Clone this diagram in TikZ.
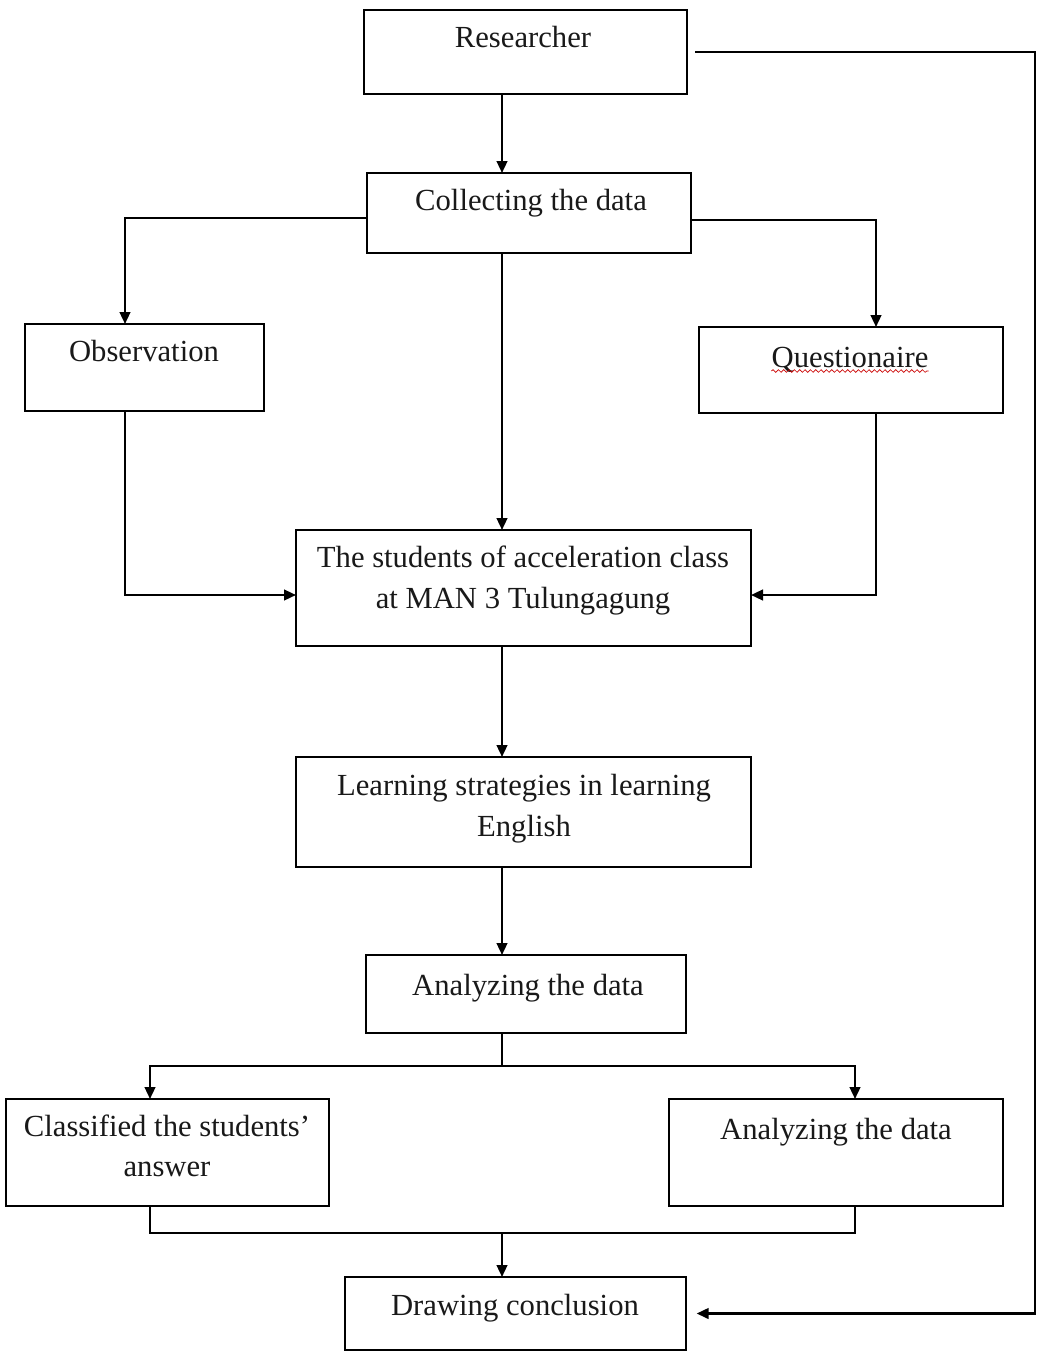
\documentclass[tikz,border=0pt]{standalone}
\usepackage{fontspec}
\setmainfont{Liberation Serif}
\usetikzlibrary{arrows.meta,decorations.pathmorphing}
\begin{document}
\begin{tikzpicture}[
  x=0.75pt, y=-0.75pt,
  box/.style={draw, rectangle, line width=1.8pt, inner sep=0pt, outer sep=0pt},
  sz/.style 2 args={minimum width=#1*0.75pt, minimum height=#2*0.75pt},
  lbl/.style={anchor=base, inner sep=0pt, text=black!90,
              font=\fontsize{23}{28}\selectfont},
  link/.style={line width=1.7pt},
  arr/.style={link, -{Triangle[length=9pt,width=8pt]}},
  spell/.style={red!80!black, line width=0.5pt,
                decorate, decoration={snake, amplitude=1pt, segment length=4pt}}
]
\fill[white] (0,0) rectangle (1038,1353);
\useasboundingbox (0,0) rectangle (1038,1353);

% boxes
\node[box, sz={323}{84}]  (res)  at (525.5,52)    {};
\node[box, sz={324}{80}]  (col)  at (529,213)     {};
\node[box, sz={239}{87}]  (obs)  at (144.5,367.5) {};
\node[box, sz={304}{86}]  (qst)  at (851,370)     {};
\node[box, sz={455}{116}] (stu)  at (523.5,588)   {};
\node[box, sz={455}{110}] (lrn)  at (523.5,812)   {};
\node[box, sz={320}{78}]  (ana)  at (526,994)     {};
\node[box, sz={323}{107}] (cls)  at (167.5,1152.5) {};
\node[box, sz={334}{107}] (anb)  at (836,1152.5)  {};
\node[box, sz={341}{73}]  (drw)  at (515.5,1313.5) {};

% labels
\node[lbl] (res-t)  at (523,47)   {Researcher};
\node[lbl] (col-t)  at (531,210)  {Collecting the data};
\node[lbl] (obs-t)  at (144,361)  {Observation};
\node[lbl] (qst-t)  at (850,367)  {Questionaire};
\node[lbl] (stu-t1) at (523,567)  {The students of acceleration class};
\node[lbl] (stu-t2) at (523,608)  {at MAN 3 Tulungagung};
\node[lbl] (lrn-t1) at (524,795)  {Learning strategies in learning};
\node[lbl] (lrn-t2) at (524,836)  {English};
\node[lbl] (ana-t)  at (528,995)  {Analyzing the data};
\node[lbl] (cls-t1) at (167,1136) {Classified the students'};
\node[lbl] (cls-t2) at (167,1176) {answer};
\node[lbl] (anb-t)  at (836,1139) {Analyzing the data};
\node[lbl] (drw-t)  at (515,1315) {Drawing conclusion};

% spell-check underline
\draw[spell] ([yshift=-3pt]qst-t.base west) -- ([yshift=-3pt]qst-t.base east);

% guide positions of the connector runs
\coordinate (spine) at (502,0);
\coordinate (obsx)  at (125,0);
\coordinate (qx)    at (876,0);
\coordinate (midy)  at (0,595);
\coordinate (lx)    at (150,0);
\coordinate (rx)    at (855,0);
\coordinate (split) at (0,1066);
\coordinate (joiny) at (0,1233);
\coordinate (rail)  at (1035,0);

% connectors
\draw[arr] (res.south -| spine) -- (col.north -| spine);
\draw[arr] ([xshift=6pt]res.east) -| (drw.east -| rail)
           -- ([xshift=8pt]drw.east);
\draw[arr] ([yshift=-3.75pt]col.west) -| (obs.north -| obsx);
\draw[arr] ([yshift=-5.25pt]col.east) -| (qst.north -| qx);
\draw[arr] (col.south -| spine) -- (stu.north -| spine);
\draw[arr] (obs.south -| obsx) |- (stu.west |- midy);
\draw[arr] (qst.south -| qx) |- (stu.east |- midy);
\draw[arr] (stu.south -| spine) -- (lrn.north -| spine);
\draw[arr] (lrn.south -| spine) -- (ana.north -| spine);
\draw[link] (ana.south -| spine) -- (spine |- split);
\draw[arr] (spine |- split) -| (cls.north -| lx);
\draw[arr] (spine |- split) -| (anb.north -| rx);
\draw[link] (cls.south -| lx) |- (rx |- joiny) -- (anb.south -| rx);
\draw[arr] (spine |- joiny) -- (drw.north -| spine);
\end{tikzpicture}
\end{document}
